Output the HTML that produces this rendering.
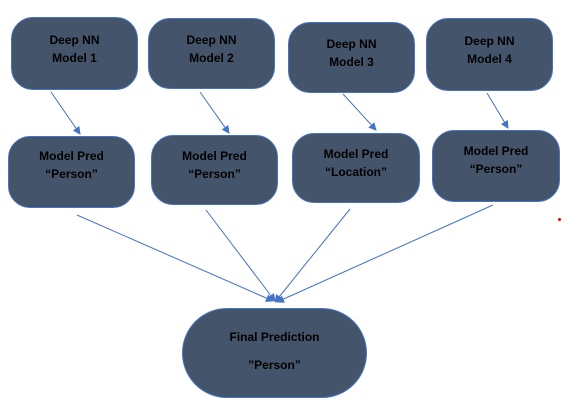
<html><head><style>
body{margin:0;width:587px;height:409px;background:#fff;position:relative;overflow:hidden;font-family:"Liberation Sans",sans-serif}
.b{position:absolute;background:#44546A;border:1px solid #4472C4;box-sizing:border-box;border-radius:22px;color:#000;font-weight:bold;font-size:12px;text-align:center;display:flex;flex-direction:column;justify-content:center;line-height:18px}
</style></head><body>
<div class="b" style="left:11px;top:17px;width:127px;height:73px;padding-bottom:10px">Deep NN<br>Model 1</div>
<div class="b" style="left:148px;top:18px;width:127px;height:71px;padding-bottom:10px">Deep NN<br>Model 2</div>
<div class="b" style="left:288px;top:22px;width:127px;height:71px;padding-bottom:10px">Deep NN<br>Model 3</div>
<div class="b" style="left:426px;top:18px;width:127px;height:73px;padding-bottom:10px">Deep NN<br>Model 4</div>
<div class="b" style="left:8px;top:136px;width:127px;height:72px;padding-bottom:14px">Model Pred<br>“Person”</div>
<div class="b" style="left:151px;top:135px;width:127px;height:70px;padding-bottom:10px">Model Pred<br>“Person”</div>
<div class="b" style="left:292px;top:133px;width:128px;height:70px;padding-bottom:10px">Model Pred<br>“Location”</div>
<div class="b" style="left:432px;top:130px;width:128px;height:72px;padding-bottom:12px">Model Pred<br>“Person”</div>
<div class="b" style="left:182px;top:308px;width:185px;height:90px;border-radius:45px;line-height:28px;padding-bottom:4px">Final Prediction<br>”Person”</div>
<div style="position:absolute;left:558px;top:218px;width:3px;height:3px;background:#e00;border-radius:50%"></div>
<svg width="587" height="409" style="position:absolute;left:0;top:0">
<defs><marker id="a" markerWidth="8" markerHeight="8" refX="7" refY="4" orient="auto" markerUnits="userSpaceOnUse"><path d="M0,0L8,4L0,8z" fill="#4472C4"/></marker></defs>
<g stroke="#4472C4" stroke-width="1" marker-end="url(#a)">
<line x1="51" y1="92" x2="80" y2="134"/>
<line x1="200" y1="92" x2="229" y2="133"/>
<line x1="343" y1="94" x2="376" y2="130"/>
<line x1="487" y1="93" x2="508" y2="128"/>
<line x1="77" y1="215" x2="273" y2="301"/>
<line x1="206" y1="210" x2="275" y2="301"/>
<line x1="350" y1="209" x2="275" y2="302"/>
<line x1="493" y1="205" x2="277" y2="302"/>
</g></svg>
</body></html>
